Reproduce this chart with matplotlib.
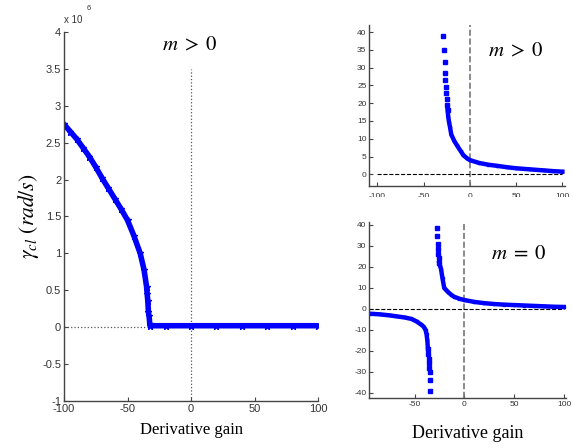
import matplotlib.pyplot as plt
from matplotlib.patches import Rectangle

plt.rcParams['mathtext.fontset'] = 'stix'
plt.rcParams['font.family'] = 'Liberation Sans'
plt.rcParams['axes.unicode_minus'] = False

# left panel: gamma_cl in units of 1e6 rad/s, m > 0
kd_left = [-100, -95, -90, -85, -80, -75, -70, -65, -60, -55, -50, -45, -40,
           -37, -35, -34.5, -34, -33.5, -33, -32.5, -32, -20, 0, 20, 40, 60, 80, 100]
gamma_left = [2.75, 2.65, 2.55, 2.43, 2.31, 2.17, 2.02, 1.88, 1.74, 1.60, 1.45, 1.24, 1.0,
              0.78, 0.55, 0.45, 0.35, 0.2, 0.15, 0.05, 0.02, 0.02, 0.02, 0.02, 0.02, 0.02, 0.02, 0.02]

# top right: m > 0
kd_top_steep = [-28.6, -27.5, -27.3, -26.8, -26.5, -26.0, -25.5, -25.0, -24.5, -24.0]
gamma_top_steep = [39, 35, 31.6, 28.6, 26.5, 24.5, 22.8, 21.2, 19.6, 18.2]
kd_top_tail = [-24, -23.3, -22.5, -21.4, -20, -17, -14, -10, -7, -3, 0, 10, 20, 29,
               40, 50, 65, 80, 90, 100]
gamma_top_tail = [18.2, 16.2, 14.8, 13.3, 11.2, 9.5, 8.2, 6.6, 5.4, 4.5, 4.0, 3.2, 2.7, 2.4,
                  2.0, 1.7, 1.4, 1.1, 0.9, 0.75]

# bottom right: m = 0
kd_bot_steep_r = [-27.5, -27.2, -26.8, -26.5, -26.2, -25.8, -25.3]
gamma_bot_steep_r = [38.4, 34.5, 31, 28.5, 26, 24, 22]
kd_bot_tail_r = [-25.3, -24.5, -23.5, -22, -20.3, -18, -16, -13, -10.5, -5, 0, 10, 20, 30,
                 40, 50, 60, 70, 80, 90, 100]
gamma_bot_tail_r = [22, 20.5, 19, 14.5, 10, 8.8, 7.8, 6.6, 5.8, 4.8, 4.2, 3.3, 2.7, 2.3,
                    2.0, 1.8, 1.6, 1.4, 1.2, 1.0, 0.9]
kd_bot_tail_l = [-95, -85, -75, -69, -60, -53, -48, -44, -41, -39, -38, -37.2, -36.6]
gamma_bot_tail_l = [-2.3, -2.6, -3.1, -3.5, -4.1, -4.8, -6.0, -7.3, -8.4, -10, -12, -15, -19]
kd_bot_steep_l = [-36.6, -36.2, -35.8, -35.5, -35.2, -35.0, -34.7, -34.3]
gamma_bot_steep_l = [-19, -21.5, -24, -26, -28, -30, -34, -39]

blue = '#0000ff'
tick_color = '#333333'


def style_axes(ax, size):
    for s in ['top', 'right']:
        ax.spines[s].set_visible(False)
    for s in ['left', 'bottom']:
        ax.spines[s].set_color('#444444')
        ax.spines[s].set_linewidth(1.0)
    ax.tick_params(direction='in', length=3, width=0.8, colors='#444444',
                   labelsize=size, labelcolor=tick_color, pad=2)


fig = plt.figure(figsize=(5.73, 4.48), dpi=100, facecolor='white')

# ---- left panel
ax1 = fig.add_axes([0.1117, 0.1049, 0.4433, 0.8237])
ax1.plot([0, 0], [-1, 3.5], color='#555555', ls=':', lw=0.9)
ax1.plot([-100, -33], [0, 0], color='#555555', ls=':', lw=0.9)
ax1.plot(kd_left, gamma_left, color=blue, lw=4, marker='*', ms=5,
         solid_capstyle='butt')
ax1.set_xlim(-100, 100)
ax1.set_ylim(-1, 4)
ax1.set_xticks([-100, -50, 0, 50, 100])
ax1.set_yticks([-1, -0.5, 0, 0.5, 1, 1.5, 2, 2.5, 3, 3.5, 4])
ax1.set_yticklabels(['-1', '-0.5', '0', '0.5', '1', '1.5', '2', '2.5', '3', '3.5', '4'])
style_axes(ax1, 8)
ax1.text(-100, 4.1, 'x 10', fontsize=7, color=tick_color, ha='left', va='bottom')
ax1.text(-82.5, 4.27, '6', fontsize=5.5, color=tick_color, ha='left', va='bottom')
ax1.text(-1, 3.83, r'$m\;>\;0$', fontsize=15, ha='center', va='center')
ax1.set_xlabel('Derivative gain', family='Liberation Serif', fontsize=12, labelpad=6)
ax1.set_ylabel(r'$\gamma_{cl}\ (rad/s)$', fontsize=15.5, labelpad=1)

# ---- top right panel
ax2 = fig.add_axes([0.6445, 0.5855, 0.3417, 0.3587])
ax2.axvline(0, color='#777777', ls='--', lw=1.2)
ax2.plot([-100, 100], [0, 0], color='black', ls='--', lw=0.8)
ax2.plot(kd_top_tail, gamma_top_tail, color=blue, lw=3.2, marker='s', ms=2)
ax2.plot(kd_top_steep, gamma_top_steep, color=blue, ls='none', marker='s', ms=2.5)
ax2.set_xlim(-108.6, 103)
ax2.set_ylim(-3.2, 42)
ax2.set_xticks([-100, -50, 0, 50, 100])
ax2.set_yticks([0, 5, 10, 15, 20, 25, 30, 35, 40])
style_axes(ax2, 6)
ax2.tick_params(axis='x', pad=5)
ax2.text(0.75, 0.84, r'$m\;>\;0$', transform=ax2.transAxes, fontsize=15,
         ha='center', va='center')

# the tick labels of the top panel are cut in the original figure
fig.patches.append(Rectangle((0.62, 0.54), 0.38, 0.0205, transform=fig.transFigure,
                             facecolor='white', edgecolor='none', zorder=10))

# ---- bottom right panel
ax3 = fig.add_axes([0.6445, 0.1109, 0.3430, 0.3942])
ax3.axvline(0, color='#777777', ls='--', lw=1.2)
ax3.plot([-95.3, 100], [0, 0], color='black', ls='--', lw=0.8)
ax3.plot(kd_bot_tail_r, gamma_bot_tail_r, color=blue, lw=3.2, marker='s', ms=2)
ax3.plot(kd_bot_steep_r, gamma_bot_steep_r, color=blue, ls='none', marker='s', ms=2.5)
ax3.plot(kd_bot_tail_l, gamma_bot_tail_l, color=blue, lw=3.2, marker='s', ms=2)
ax3.plot(kd_bot_steep_l, gamma_bot_steep_l, color=blue, ls='none', marker='s', ms=2.5)
ax3.set_xlim(-95.3, 101.5)
ax3.set_ylim(-42.6, 41.5)
ax3.set_xticks([-50, 0, 50, 100])
ax3.set_yticks([-40, -30, -20, -10, 0, 10, 20, 30, 40])
style_axes(ax3, 6)
ax3.text(0.76, 0.82, r'$m\;=\;0$', transform=ax3.transAxes, fontsize=15,
         ha='center', va='center')
ax3.set_xlabel('Derivative gain', family='Liberation Serif', fontsize=13, labelpad=12)

fig.savefig('out.png', dpi=100)
